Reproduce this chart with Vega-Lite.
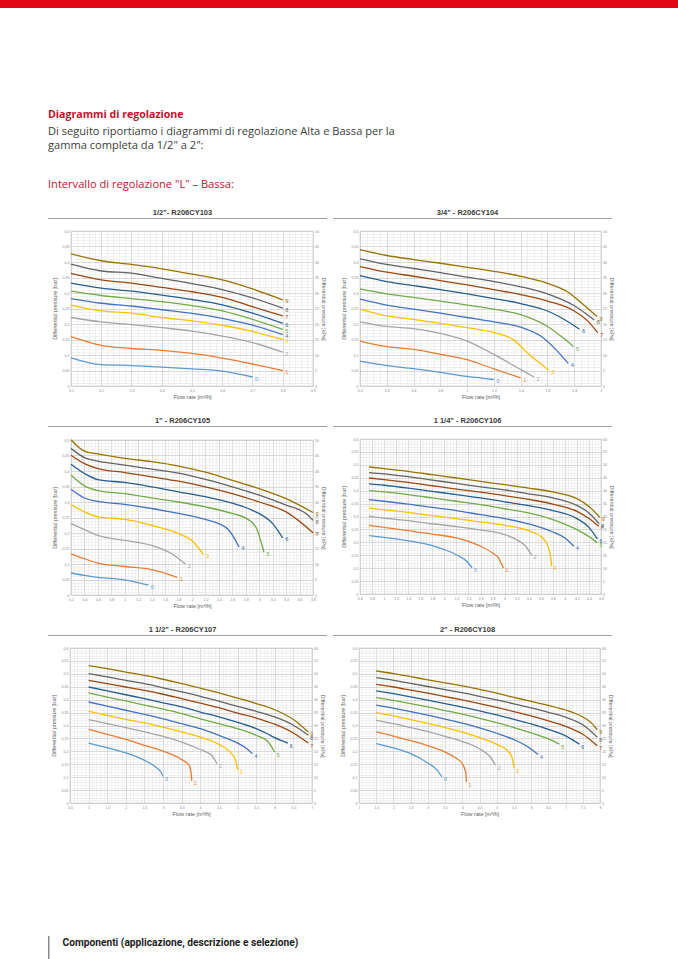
{
"$schema": "https://vega.github.io/schema/vega-lite/v6.json",
"padding": 0,
"background": "white",
"datasets": {
"d1": [
{"c":0,"q":0.1,"p":0.091},{"c":0,"q":0.2,"p":0.069},{"c":0,"q":0.3,"p":0.066},{"c":0,"q":0.4,"p":0.061},{"c":0,"q":0.5,"p":0.055},{"c":0,"q":0.6,"p":0.048},{"c":0,"q":0.7,"p":0.029},
{"c":1,"q":0.1,"p":0.159},{"c":1,"q":0.2,"p":0.131},{"c":1,"q":0.3,"p":0.121},{"c":1,"q":0.4,"p":0.115},{"c":1,"q":0.5,"p":0.105},{"c":1,"q":0.6,"p":0.090},{"c":1,"q":0.7,"p":0.071},{"c":1,"q":0.8,"p":0.050},
{"c":2,"q":0.1,"p":0.221},{"c":2,"q":0.2,"p":0.207},{"c":2,"q":0.3,"p":0.198},{"c":2,"q":0.4,"p":0.188},{"c":2,"q":0.5,"p":0.177},{"c":2,"q":0.6,"p":0.161},{"c":2,"q":0.7,"p":0.140},{"c":2,"q":0.8,"p":0.109},
{"c":3,"q":0.1,"p":0.261},{"c":3,"q":0.2,"p":0.242},{"c":3,"q":0.3,"p":0.235},{"c":3,"q":0.4,"p":0.221},{"c":3,"q":0.5,"p":0.210},{"c":3,"q":0.6,"p":0.196},{"c":3,"q":0.7,"p":0.176},{"c":3,"q":0.8,"p":0.150},
{"c":4,"q":0.1,"p":0.282},{"c":4,"q":0.2,"p":0.267},{"c":4,"q":0.3,"p":0.258},{"c":4,"q":0.4,"p":0.246},{"c":4,"q":0.5,"p":0.234},{"c":4,"q":0.6,"p":0.218},{"c":4,"q":0.7,"p":0.196},{"c":4,"q":0.8,"p":0.166},
{"c":5,"q":0.1,"p":0.306},{"c":5,"q":0.2,"p":0.292},{"c":5,"q":0.3,"p":0.282},{"c":5,"q":0.4,"p":0.272},{"c":5,"q":0.5,"p":0.259},{"c":5,"q":0.6,"p":0.242},{"c":5,"q":0.7,"p":0.215},{"c":5,"q":0.8,"p":0.183},
{"c":6,"q":0.1,"p":0.332},{"c":6,"q":0.2,"p":0.316},{"c":6,"q":0.3,"p":0.306},{"c":6,"q":0.4,"p":0.293},{"c":6,"q":0.5,"p":0.279},{"c":6,"q":0.6,"p":0.262},{"c":6,"q":0.7,"p":0.235},{"c":6,"q":0.8,"p":0.202},
{"c":7,"q":0.1,"p":0.363},{"c":7,"q":0.2,"p":0.342},{"c":7,"q":0.3,"p":0.332},{"c":7,"q":0.4,"p":0.318},{"c":7,"q":0.5,"p":0.304},{"c":7,"q":0.6,"p":0.286},{"c":7,"q":0.7,"p":0.256},{"c":7,"q":0.8,"p":0.226},
{"c":8,"q":0.1,"p":0.393},{"c":8,"q":0.2,"p":0.371},{"c":8,"q":0.3,"p":0.364},{"c":8,"q":0.4,"p":0.347},{"c":8,"q":0.5,"p":0.330},{"c":8,"q":0.6,"p":0.311},{"c":8,"q":0.7,"p":0.284},{"c":8,"q":0.8,"p":0.251},
{"c":9,"q":0.1,"p":0.426},{"c":9,"q":0.2,"p":0.404},{"c":9,"q":0.3,"p":0.392},{"c":9,"q":0.4,"p":0.378},{"c":9,"q":0.5,"p":0.361},{"c":9,"q":0.6,"p":0.342},{"c":9,"q":0.7,"p":0.313},{"c":9,"q":0.8,"p":0.278}
],
"d2": [
{"c":0,"q":0.2,"p":0.080},{"c":0,"q":0.4,"p":0.066},{"c":0,"q":0.6,"p":0.056},{"c":0,"q":0.8,"p":0.044},{"c":0,"q":1.0,"p":0.031},{"c":0,"q":1.2,"p":0.021},
{"c":1,"q":0.2,"p":0.145},{"c":1,"q":0.4,"p":0.127},{"c":1,"q":0.6,"p":0.118},{"c":1,"q":0.8,"p":0.102},{"c":1,"q":1.0,"p":0.085},{"c":1,"q":1.2,"p":0.055},{"c":1,"q":1.4,"p":0.026},
{"c":2,"q":0.2,"p":0.207},{"c":2,"q":0.4,"p":0.192},{"c":2,"q":0.6,"p":0.185},{"c":2,"q":0.8,"p":0.170},{"c":2,"q":1.0,"p":0.145},{"c":2,"q":1.2,"p":0.102},{"c":2,"q":1.4,"p":0.053},{"c":2,"q":1.5,"p":0.029},
{"c":3,"q":0.2,"p":0.248},{"c":3,"q":0.4,"p":0.226},{"c":3,"q":0.6,"p":0.215},{"c":3,"q":0.8,"p":0.202},{"c":3,"q":1.0,"p":0.188},{"c":3,"q":1.2,"p":0.172},{"c":3,"q":1.35,"p":0.148},{"c":3,"q":1.45,"p":0.107},{"c":3,"q":1.61,"p":0.051},
{"c":4,"q":0.2,"p":0.280},{"c":4,"q":0.4,"p":0.261},{"c":4,"q":0.6,"p":0.248},{"c":4,"q":0.8,"p":0.235},{"c":4,"q":1.0,"p":0.221},{"c":4,"q":1.2,"p":0.207},{"c":4,"q":1.4,"p":0.190},{"c":4,"q":1.55,"p":0.161},{"c":4,"q":1.65,"p":0.123},{"c":4,"q":1.755,"p":0.073},
{"c":5,"q":0.2,"p":0.313},{"c":5,"q":0.4,"p":0.297},{"c":5,"q":0.6,"p":0.286},{"c":5,"q":0.8,"p":0.274},{"c":5,"q":1.0,"p":0.261},{"c":5,"q":1.2,"p":0.248},{"c":5,"q":1.4,"p":0.230},{"c":5,"q":1.6,"p":0.192},{"c":5,"q":1.7,"p":0.161},{"c":5,"q":1.795,"p":0.127},
{"c":6,"q":0.2,"p":0.356},{"c":6,"q":0.4,"p":0.337},{"c":6,"q":0.6,"p":0.324},{"c":6,"q":0.8,"p":0.311},{"c":6,"q":1.0,"p":0.297},{"c":6,"q":1.2,"p":0.282},{"c":6,"q":1.4,"p":0.266},{"c":6,"q":1.6,"p":0.242},{"c":6,"q":1.7,"p":0.221},{"c":6,"q":1.84,"p":0.183},
{"c":7,"q":0.2,"p":0.385},{"c":7,"q":0.4,"p":0.367},{"c":7,"q":0.6,"p":0.354},{"c":7,"q":0.8,"p":0.340},{"c":7,"q":1.0,"p":0.326},{"c":7,"q":1.2,"p":0.311},{"c":7,"q":1.4,"p":0.295},{"c":7,"q":1.6,"p":0.274},{"c":7,"q":1.8,"p":0.242},{"c":7,"q":1.9,"p":0.210},{"c":7,"q":1.975,"p":0.172},
{"c":8,"q":0.2,"p":0.410},{"c":8,"q":0.4,"p":0.392},{"c":8,"q":0.6,"p":0.379},{"c":8,"q":0.8,"p":0.366},{"c":8,"q":1.0,"p":0.351},{"c":8,"q":1.2,"p":0.337},{"c":8,"q":1.4,"p":0.320},{"c":8,"q":1.6,"p":0.297},{"c":8,"q":1.8,"p":0.259},{"c":8,"q":1.95,"p":0.213},
{"c":9,"q":0.2,"p":0.440},{"c":9,"q":0.4,"p":0.421},{"c":9,"q":0.6,"p":0.408},{"c":9,"q":0.8,"p":0.396},{"c":9,"q":1.0,"p":0.383},{"c":9,"q":1.2,"p":0.370},{"c":9,"q":1.4,"p":0.354},{"c":9,"q":1.6,"p":0.331},{"c":9,"q":1.75,"p":0.304},{"c":9,"q":1.85,"p":0.269},{"c":9,"q":1.97,"p":0.224}
],
"d3": [
{"c":0,"q":0.2,"p":0.071},{"c":0,"q":0.4,"p":0.063},{"c":0,"q":0.6,"p":0.057},{"c":0,"q":1.0,"p":0.049},{"c":0,"q":1.35,"p":0.032},
{"c":1,"q":0.2,"p":0.133},{"c":1,"q":0.4,"p":0.117},{"c":1,"q":0.6,"p":0.103},{"c":1,"q":1.0,"p":0.092},{"c":1,"q":1.4,"p":0.082},{"c":1,"q":1.78,"p":0.057},
{"c":2,"q":0.2,"p":0.230},{"c":2,"q":0.4,"p":0.211},{"c":2,"q":0.6,"p":0.192},{"c":2,"q":1.0,"p":0.176},{"c":2,"q":1.4,"p":0.160},{"c":2,"q":1.7,"p":0.133},{"c":2,"q":1.9,"p":0.100},
{"c":3,"q":0.2,"p":0.292},{"c":3,"q":0.4,"p":0.268},{"c":3,"q":0.6,"p":0.252},{"c":3,"q":1.0,"p":0.244},{"c":3,"q":1.4,"p":0.225},{"c":3,"q":1.8,"p":0.198},{"c":3,"q":2.0,"p":0.176},{"c":3,"q":2.17,"p":0.130},
{"c":4,"q":0.2,"p":0.341},{"c":4,"q":0.4,"p":0.313},{"c":4,"q":0.6,"p":0.302},{"c":4,"q":1.0,"p":0.292},{"c":4,"q":1.4,"p":0.279},{"c":4,"q":1.8,"p":0.263},{"c":4,"q":2.2,"p":0.244},{"c":4,"q":2.4,"p":0.230},{"c":4,"q":2.55,"p":0.209},{"c":4,"q":2.7,"p":0.155},
{"c":5,"q":0.2,"p":0.387},{"c":5,"q":0.4,"p":0.352},{"c":5,"q":0.6,"p":0.337},{"c":5,"q":1.0,"p":0.327},{"c":5,"q":1.4,"p":0.313},{"c":5,"q":1.8,"p":0.300},{"c":5,"q":2.2,"p":0.284},{"c":5,"q":2.6,"p":0.263},{"c":5,"q":2.8,"p":0.248},{"c":5,"q":2.95,"p":0.219},{"c":5,"q":3.07,"p":0.138},
{"c":6,"q":0.2,"p":0.422},{"c":6,"q":0.4,"p":0.392},{"c":6,"q":0.6,"p":0.372},{"c":6,"q":1.0,"p":0.363},{"c":6,"q":1.4,"p":0.349},{"c":6,"q":1.8,"p":0.333},{"c":6,"q":2.2,"p":0.317},{"c":6,"q":2.6,"p":0.296},{"c":6,"q":2.9,"p":0.273},{"c":6,"q":3.2,"p":0.230},{"c":6,"q":3.35,"p":0.184},
{"c":7,"q":0.2,"p":0.451},{"c":7,"q":0.4,"p":0.424},{"c":7,"q":0.6,"p":0.408},{"c":7,"q":1.0,"p":0.395},{"c":7,"q":1.4,"p":0.381},{"c":7,"q":1.8,"p":0.367},{"c":7,"q":2.2,"p":0.349},{"c":7,"q":2.6,"p":0.327},{"c":7,"q":3.0,"p":0.300},{"c":7,"q":3.4,"p":0.268},{"c":7,"q":3.8,"p":0.201},
{"c":8,"q":0.2,"p":0.473},{"c":8,"q":0.4,"p":0.443},{"c":8,"q":0.6,"p":0.432},{"c":8,"q":1.0,"p":0.419},{"c":8,"q":1.4,"p":0.406},{"c":8,"q":1.8,"p":0.393},{"c":8,"q":2.2,"p":0.373},{"c":8,"q":2.6,"p":0.349},{"c":8,"q":3.0,"p":0.322},{"c":8,"q":3.4,"p":0.290},{"c":8,"q":3.7,"p":0.262},{"c":8,"q":3.8,"p":0.241},
{"c":9,"q":0.2,"p":0.501},{"c":9,"q":0.4,"p":0.464},{"c":9,"q":0.6,"p":0.455},{"c":9,"q":1.0,"p":0.441},{"c":9,"q":1.4,"p":0.430},{"c":9,"q":1.8,"p":0.416},{"c":9,"q":2.2,"p":0.396},{"c":9,"q":2.6,"p":0.370},{"c":9,"q":3.0,"p":0.343},{"c":9,"q":3.4,"p":0.311},{"c":9,"q":3.8,"p":0.266}
],
"d4": [
{"c":0,"q":0.75,"p":0.226},{"c":0,"q":1.0,"p":0.219},{"c":0,"q":1.4,"p":0.206},{"c":0,"q":1.8,"p":0.187},{"c":0,"q":2.0,"p":0.172},{"c":0,"q":2.2,"p":0.152},{"c":0,"q":2.4,"p":0.120},{"c":0,"q":2.46,"p":0.101},
{"c":1,"q":0.75,"p":0.266},{"c":1,"q":1.0,"p":0.258},{"c":1,"q":1.4,"p":0.245},{"c":1,"q":1.8,"p":0.232},{"c":1,"q":2.2,"p":0.217},{"c":1,"q":2.4,"p":0.204},{"c":1,"q":2.6,"p":0.185},{"c":1,"q":2.8,"p":0.159},{"c":1,"q":2.9,"p":0.139},{"c":1,"q":2.98,"p":0.101},
{"c":2,"q":0.75,"p":0.301},{"c":2,"q":1.0,"p":0.294},{"c":2,"q":1.4,"p":0.284},{"c":2,"q":1.8,"p":0.272},{"c":2,"q":2.2,"p":0.261},{"c":2,"q":2.6,"p":0.248},{"c":2,"q":3.0,"p":0.230},{"c":2,"q":3.2,"p":0.210},{"c":2,"q":3.35,"p":0.185},{"c":2,"q":3.45,"p":0.150},
{"c":3,"q":0.75,"p":0.333},{"c":3,"q":1.0,"p":0.326},{"c":3,"q":1.4,"p":0.316},{"c":3,"q":1.8,"p":0.303},{"c":3,"q":2.2,"p":0.292},{"c":3,"q":2.6,"p":0.279},{"c":3,"q":3.0,"p":0.266},{"c":3,"q":3.4,"p":0.245},{"c":3,"q":3.6,"p":0.223},{"c":3,"q":3.72,"p":0.185},{"c":3,"q":3.77,"p":0.133},{"c":3,"q":3.78,"p":0.107},
{"c":4,"q":0.75,"p":0.365},{"c":4,"q":1.0,"p":0.359},{"c":4,"q":1.4,"p":0.348},{"c":4,"q":1.8,"p":0.335},{"c":4,"q":2.2,"p":0.323},{"c":4,"q":2.6,"p":0.307},{"c":4,"q":3.0,"p":0.292},{"c":4,"q":3.4,"p":0.271},{"c":4,"q":3.8,"p":0.240},{"c":4,"q":4.0,"p":0.217},{"c":4,"q":4.15,"p":0.185},
{"c":5,"q":0.75,"p":0.400},{"c":5,"q":1.0,"p":0.395},{"c":5,"q":1.4,"p":0.385},{"c":5,"q":1.8,"p":0.372},{"c":5,"q":2.2,"p":0.359},{"c":5,"q":2.6,"p":0.346},{"c":5,"q":3.0,"p":0.330},{"c":5,"q":3.4,"p":0.314},{"c":5,"q":3.8,"p":0.288},{"c":5,"q":4.2,"p":0.249},{"c":5,"q":4.4,"p":0.222},{"c":5,"q":4.54,"p":0.198},
{"c":6,"q":0.75,"p":0.426},{"c":6,"q":1.0,"p":0.421},{"c":6,"q":1.4,"p":0.410},{"c":6,"q":1.8,"p":0.397},{"c":6,"q":2.2,"p":0.385},{"c":6,"q":2.6,"p":0.372},{"c":6,"q":3.0,"p":0.357},{"c":6,"q":3.4,"p":0.342},{"c":6,"q":3.8,"p":0.323},{"c":6,"q":4.2,"p":0.292},{"c":6,"q":4.4,"p":0.258},{"c":6,"q":4.54,"p":0.213},
{"c":7,"q":0.75,"p":0.449},{"c":7,"q":1.0,"p":0.443},{"c":7,"q":1.4,"p":0.432},{"c":7,"q":1.8,"p":0.419},{"c":7,"q":2.2,"p":0.406},{"c":7,"q":2.6,"p":0.394},{"c":7,"q":3.0,"p":0.381},{"c":7,"q":3.4,"p":0.366},{"c":7,"q":3.8,"p":0.348},{"c":7,"q":4.2,"p":0.320},{"c":7,"q":4.4,"p":0.292},{"c":7,"q":4.56,"p":0.262},
{"c":8,"q":0.75,"p":0.470},{"c":8,"q":1.0,"p":0.465},{"c":8,"q":1.4,"p":0.454},{"c":8,"q":1.8,"p":0.441},{"c":8,"q":2.2,"p":0.428},{"c":8,"q":2.6,"p":0.415},{"c":8,"q":3.0,"p":0.403},{"c":8,"q":3.4,"p":0.388},{"c":8,"q":3.8,"p":0.372},{"c":8,"q":4.2,"p":0.343},{"c":8,"q":4.4,"p":0.314},{"c":8,"q":4.57,"p":0.272},
{"c":9,"q":0.75,"p":0.492},{"c":9,"q":1.0,"p":0.485},{"c":9,"q":1.4,"p":0.475},{"c":9,"q":1.8,"p":0.462},{"c":9,"q":2.2,"p":0.449},{"c":9,"q":2.6,"p":0.436},{"c":9,"q":3.0,"p":0.423},{"c":9,"q":3.4,"p":0.410},{"c":9,"q":3.8,"p":0.395},{"c":9,"q":4.2,"p":0.369},{"c":9,"q":4.4,"p":0.339},{"c":9,"q":4.58,"p":0.297}
],
"d5": [
{"c":0,"q":1.0,"p":0.232},{"c":0,"q":1.5,"p":0.214},{"c":0,"q":2.0,"p":0.194},{"c":0,"q":2.5,"p":0.165},{"c":0,"q":2.8,"p":0.139},{"c":0,"q":2.95,"p":0.118},{"c":0,"q":3.0,"p":0.103},
{"c":1,"q":1.0,"p":0.285},{"c":1,"q":1.5,"p":0.266},{"c":1,"q":2.0,"p":0.246},{"c":1,"q":2.5,"p":0.223},{"c":1,"q":3.0,"p":0.201},{"c":1,"q":3.5,"p":0.168},{"c":1,"q":3.7,"p":0.146},{"c":1,"q":3.75,"p":0.120},{"c":1,"q":3.77,"p":0.086},
{"c":2,"q":1.0,"p":0.323},{"c":2,"q":1.5,"p":0.307},{"c":2,"q":2.0,"p":0.292},{"c":2,"q":2.5,"p":0.275},{"c":2,"q":3.0,"p":0.258},{"c":2,"q":3.5,"p":0.236},{"c":2,"q":4.0,"p":0.207},{"c":2,"q":4.3,"p":0.185},{"c":2,"q":4.45,"p":0.152},
{"c":3,"q":1.0,"p":0.356},{"c":3,"q":1.5,"p":0.339},{"c":3,"q":2.0,"p":0.324},{"c":3,"q":2.5,"p":0.310},{"c":3,"q":3.0,"p":0.294},{"c":3,"q":3.5,"p":0.275},{"c":3,"q":4.0,"p":0.255},{"c":3,"q":4.5,"p":0.227},{"c":3,"q":4.8,"p":0.197},{"c":3,"q":4.95,"p":0.165},{"c":3,"q":5.0,"p":0.129},
{"c":4,"q":1.0,"p":0.391},{"c":4,"q":1.5,"p":0.375},{"c":4,"q":2.0,"p":0.359},{"c":4,"q":2.5,"p":0.343},{"c":4,"q":3.0,"p":0.326},{"c":4,"q":3.5,"p":0.307},{"c":4,"q":4.0,"p":0.288},{"c":4,"q":4.5,"p":0.262},{"c":4,"q":5.0,"p":0.232},{"c":4,"q":5.25,"p":0.210},{"c":4,"q":5.4,"p":0.191},
{"c":5,"q":1.0,"p":0.426},{"c":5,"q":1.5,"p":0.410},{"c":5,"q":2.0,"p":0.395},{"c":5,"q":2.5,"p":0.379},{"c":5,"q":3.0,"p":0.363},{"c":5,"q":3.5,"p":0.346},{"c":5,"q":4.0,"p":0.326},{"c":5,"q":4.5,"p":0.307},{"c":5,"q":5.0,"p":0.288},{"c":5,"q":5.5,"p":0.262},{"c":5,"q":5.8,"p":0.240},{"c":5,"q":6.0,"p":0.197},
{"c":6,"q":1.0,"p":0.449},{"c":6,"q":1.5,"p":0.434},{"c":6,"q":2.0,"p":0.419},{"c":6,"q":2.5,"p":0.404},{"c":6,"q":3.0,"p":0.388},{"c":6,"q":3.5,"p":0.372},{"c":6,"q":4.0,"p":0.352},{"c":6,"q":4.5,"p":0.333},{"c":6,"q":5.0,"p":0.312},{"c":6,"q":5.5,"p":0.288},{"c":6,"q":5.8,"p":0.268},{"c":6,"q":6.0,"p":0.253},{"c":6,"q":6.35,"p":0.232},
{"c":7,"q":1.0,"p":0.475},{"c":7,"q":1.5,"p":0.462},{"c":7,"q":2.0,"p":0.449},{"c":7,"q":2.5,"p":0.436},{"c":7,"q":3.0,"p":0.421},{"c":7,"q":3.5,"p":0.404},{"c":7,"q":4.0,"p":0.387},{"c":7,"q":4.5,"p":0.369},{"c":7,"q":5.0,"p":0.348},{"c":7,"q":5.5,"p":0.329},{"c":7,"q":6.0,"p":0.305},{"c":7,"q":6.5,"p":0.271},{"c":7,"q":6.9,"p":0.232},
{"c":8,"q":1.0,"p":0.501},{"c":8,"q":1.5,"p":0.488},{"c":8,"q":2.0,"p":0.475},{"c":8,"q":2.5,"p":0.462},{"c":8,"q":3.0,"p":0.446},{"c":8,"q":3.5,"p":0.430},{"c":8,"q":4.0,"p":0.413},{"c":8,"q":4.5,"p":0.394},{"c":8,"q":5.0,"p":0.374},{"c":8,"q":5.5,"p":0.355},{"c":8,"q":6.0,"p":0.333},{"c":8,"q":6.5,"p":0.301},{"c":8,"q":6.9,"p":0.262},
{"c":9,"q":1.0,"p":0.532},{"c":9,"q":1.5,"p":0.520},{"c":9,"q":2.0,"p":0.507},{"c":9,"q":2.5,"p":0.494},{"c":9,"q":3.0,"p":0.479},{"c":9,"q":3.5,"p":0.462},{"c":9,"q":4.0,"p":0.445},{"c":9,"q":4.5,"p":0.426},{"c":9,"q":5.0,"p":0.406},{"c":9,"q":5.5,"p":0.385},{"c":9,"q":6.0,"p":0.361},{"c":9,"q":6.5,"p":0.323},{"c":9,"q":6.9,"p":0.275}
],
"d6": [
{"c":0,"q":1.5,"p":0.230},{"c":0,"q":2.0,"p":0.213},{"c":0,"q":2.5,"p":0.191},{"c":0,"q":3.0,"p":0.155},{"c":0,"q":3.25,"p":0.130},{"c":0,"q":3.41,"p":0.101},
{"c":1,"q":1.5,"p":0.275},{"c":1,"q":2.0,"p":0.259},{"c":1,"q":2.5,"p":0.241},{"c":1,"q":3.0,"p":0.222},{"c":1,"q":3.5,"p":0.197},{"c":1,"q":3.8,"p":0.175},{"c":1,"q":4.0,"p":0.152},{"c":1,"q":4.1,"p":0.119},{"c":1,"q":4.12,"p":0.081},
{"c":2,"q":1.5,"p":0.320},{"c":2,"q":2.0,"p":0.307},{"c":2,"q":2.5,"p":0.292},{"c":2,"q":3.0,"p":0.276},{"c":2,"q":3.5,"p":0.258},{"c":2,"q":4.0,"p":0.238},{"c":2,"q":4.5,"p":0.210},{"c":2,"q":4.8,"p":0.180},{"c":2,"q":4.97,"p":0.146},
{"c":3,"q":1.5,"p":0.350},{"c":3,"q":2.0,"p":0.337},{"c":3,"q":2.5,"p":0.323},{"c":3,"q":3.0,"p":0.308},{"c":3,"q":3.5,"p":0.292},{"c":3,"q":4.0,"p":0.274},{"c":3,"q":4.5,"p":0.253},{"c":3,"q":5.0,"p":0.227},{"c":3,"q":5.3,"p":0.204},{"c":3,"q":5.45,"p":0.175},{"c":3,"q":5.5,"p":0.135},
{"c":4,"q":1.5,"p":0.379},{"c":4,"q":2.0,"p":0.367},{"c":4,"q":2.5,"p":0.354},{"c":4,"q":3.0,"p":0.340},{"c":4,"q":3.5,"p":0.325},{"c":4,"q":4.0,"p":0.309},{"c":4,"q":4.5,"p":0.291},{"c":4,"q":5.0,"p":0.270},{"c":4,"q":5.5,"p":0.245},{"c":4,"q":5.9,"p":0.218},{"c":4,"q":6.2,"p":0.188},
{"c":5,"q":1.5,"p":0.408},{"c":5,"q":2.0,"p":0.397},{"c":5,"q":2.5,"p":0.385},{"c":5,"q":3.0,"p":0.372},{"c":5,"q":3.5,"p":0.358},{"c":5,"q":4.0,"p":0.344},{"c":5,"q":4.5,"p":0.328},{"c":5,"q":5.0,"p":0.311},{"c":5,"q":5.5,"p":0.292},{"c":5,"q":6.0,"p":0.271},{"c":5,"q":6.5,"p":0.248},{"c":5,"q":6.82,"p":0.228},
{"c":6,"q":1.5,"p":0.434},{"c":6,"q":2.0,"p":0.423},{"c":6,"q":2.5,"p":0.411},{"c":6,"q":3.0,"p":0.398},{"c":6,"q":3.5,"p":0.385},{"c":6,"q":4.0,"p":0.371},{"c":6,"q":4.5,"p":0.357},{"c":6,"q":5.0,"p":0.341},{"c":6,"q":5.5,"p":0.324},{"c":6,"q":6.0,"p":0.306},{"c":6,"q":6.5,"p":0.285},{"c":6,"q":7.0,"p":0.260},{"c":6,"q":7.4,"p":0.228},
{"c":7,"q":1.5,"p":0.459},{"c":7,"q":2.0,"p":0.449},{"c":7,"q":2.5,"p":0.437},{"c":7,"q":3.0,"p":0.425},{"c":7,"q":3.5,"p":0.412},{"c":7,"q":4.0,"p":0.399},{"c":7,"q":4.5,"p":0.385},{"c":7,"q":5.0,"p":0.370},{"c":7,"q":5.5,"p":0.354},{"c":7,"q":6.0,"p":0.337},{"c":7,"q":6.5,"p":0.318},{"c":7,"q":7.0,"p":0.297},{"c":7,"q":7.5,"p":0.266},{"c":7,"q":7.92,"p":0.222},
{"c":8,"q":1.5,"p":0.485},{"c":8,"q":2.0,"p":0.475},{"c":8,"q":2.5,"p":0.463},{"c":8,"q":3.0,"p":0.451},{"c":8,"q":3.5,"p":0.439},{"c":8,"q":4.0,"p":0.427},{"c":8,"q":4.5,"p":0.413},{"c":8,"q":5.0,"p":0.399},{"c":8,"q":5.5,"p":0.384},{"c":8,"q":6.0,"p":0.368},{"c":8,"q":6.5,"p":0.351},{"c":8,"q":7.0,"p":0.332},{"c":8,"q":7.5,"p":0.303},{"c":8,"q":7.92,"p":0.255},
{"c":9,"q":1.5,"p":0.511},{"c":9,"q":2.0,"p":0.501},{"c":9,"q":2.5,"p":0.489},{"c":9,"q":3.0,"p":0.477},{"c":9,"q":3.5,"p":0.465},{"c":9,"q":4.0,"p":0.453},{"c":9,"q":4.5,"p":0.440},{"c":9,"q":5.0,"p":0.425},{"c":9,"q":5.5,"p":0.409},{"c":9,"q":6.0,"p":0.393},{"c":9,"q":6.5,"p":0.378},{"c":9,"q":7.0,"p":0.360},{"c":9,"q":7.5,"p":0.333},{"c":9,"q":7.75,"p":0.310},{"c":9,"q":7.92,"p":0.284}
]
},
"config": {
  "view": {"stroke": null},
  "font": "Liberation Sans",
  "title": {"font": "Liberation Sans", "fontSize": 7.5, "fontWeight": "bold", "color": "#3a3a3a", "anchor": "middle", "offset": 2},
  "axis": {"labelFont": "Liberation Sans", "labelFontSize": 3.6, "labelColor": "#8c8c8c", "titleFont": "Liberation Sans", "titleFontSize": 5.5, "titleFontWeight": "normal", "titleColor": "#5e5e5e", "ticks": false, "domain": false, "labelOverlap": false, "labelFlush": false, "labelBound": false, "gridWidth": 0.6},
  "axisBottom": {"labelPadding": 2, "titlePadding": 2.5},
  "axisLeft": {"labelPadding": 2, "minExtent": 10, "titlePadding": 4},
  "axisRight": {"labelPadding": 1.5, "titlePadding": 2.5, "titleAngle": 90},
  "text": {"font": "Liberation Sans"}
},
"vconcat": [
  {"width": 678, "height": 8, "data": {"values": []}, "mark": "point", "view": {"fill": "#e30613", "stroke": null}},
  {"hconcat": [
    {"width": 1, "height": 1, "data": {"values": []}, "mark": "point"},
    {
      "title": {"text": "Diagrammi di regolazione", "subtitle": ["Di seguito riportiamo i diagrammi di regolazione Alta e Bassa per la", "gamma completa da 1/2\" a 2\":"], "anchor": "start", "font": "Open Sans", "fontSize": 10.6, "fontWeight": "bold", "color": "#c8102e", "subtitleFont": "Open Sans", "subtitleFontSize": 11.1, "subtitleColor": "#3c3c3c", "subtitleLineHeight": 14, "subtitlePadding": 6, "offset": 28},
      "spacing": 119,
      "vconcat": [
        {
          "title": {"text": "Intervallo di regolazione \"L\" – Bassa:", "anchor": "start", "font": "Open Sans", "fontSize": 11.1, "fontWeight": "normal", "color": "#c8102e", "offset": 18},
          "spacing": 16,
          "vconcat": [
            {"spacing": 6, "hconcat": [
              {"spacing": 9, "vconcat": [
                {"width": 279, "height": 1, "data": {"values": []}, "mark": "point", "view": {"fill": "#a0a0a0", "stroke": null}, "title": {"text": "1/2\"- R206CY103", "dx": -5}},
                {"spacing": 0, "hconcat": [
                  {"width": 3, "height": 1, "data": {"values": []}, "mark": "point"},
                  {"width": 242, "height": 155, "data": {"name": "d1"}, "view": {"stroke": "#b8b8b8", "strokeWidth": 0.6},
                   "layer": [
                    {"mark": {"type": "line", "strokeWidth": 1.3, "interpolate": "monotone"},
                     "encoding": {
                      "x": {"field": "q", "type": "quantitative", "scale": {"domain": [0.1, 0.9], "nice": false, "zero": false},
                            "axis": {"title": "Flow rate [m³/h]", "tickCount": 40, "gridColor": {"condition": {"test": "abs(datum.value*10-round(datum.value*10))<1e-6", "value": "#c2c2c2"}, "value": "#e9e9e9"}, "labelExpr": "abs(datum.value*10-round(datum.value*10))<1e-6 ? replace(format(datum.value,'~g'),'.',',') : ''"}},
                      "y": {"field": "p", "type": "quantitative", "scale": {"domain": [0, 0.5], "nice": false},
                            "axis": {"title": "Differential pressure [bar]", "orient": "left", "tickCount": 50, "gridColor": {"condition": {"test": "abs(datum.value*20-round(datum.value*20))<1e-6", "value": "#c2c2c2"}, "value": "#e9e9e9"}, "labelExpr": "abs(datum.value*20-round(datum.value*20))<1e-6 ? replace(format(datum.value,'~g'),'.',',') : ''"}},
                      "color": {"field": "c", "type": "nominal", "scale": {"domain": [0,1,2,3,4,5,6,7,8,9], "range": ["#5b9bd5","#ed7d31","#a5a5a5","#ffc000","#4472c4","#70ad47","#255e91","#9e480e","#636363","#997300"]}, "legend": null}
                     }},
                    {"transform": [{"joinaggregate": [{"op": "max", "field": "q", "as": "qm"}], "groupby": ["c"]}, {"filter": "datum.q == datum.qm"}],
                     "mark": {"type": "text", "align": "left", "baseline": "middle", "dx": 2.5, "dy": 1.5, "fontSize": 5.6},
                     "encoding": {
                      "x": {"field": "q", "type": "quantitative", "scale": {"domain": [0.1, 0.9], "nice": false, "zero": false}},
                      "y": {"field": "p", "type": "quantitative", "scale": {"domain": [0, 0.5], "nice": false}, "axis": {"title": "Differential pressure [kPa]", "orient": "right", "tickCount": 10, "grid": false, "labelExpr": "format(round(datum.value*100),'d')"}},
                      "color": {"field": "c", "type": "nominal", "scale": {"domain": [0,1,2,3,4,5,6,7,8,9], "range": ["#5b9bd5","#ed7d31","#a5a5a5","#ffc000","#4472c4","#70ad47","#255e91","#9e480e","#636363","#997300"]}, "legend": null},
                      "text": {"field": "c", "type": "nominal"}
                     }}
                   ],
                   "resolve": {"axis": {"y": "independent"}}}
                ]}
              ]},
              {"spacing": 9, "vconcat": [
                {"width": 279, "height": 1, "data": {"values": []}, "mark": "point", "view": {"fill": "#a0a0a0", "stroke": null}, "title": {"text": "3/4\" - R206CY104", "dx": -5}},
                {"spacing": 0, "hconcat": [
                  {"width": 7, "height": 1, "data": {"values": []}, "mark": "point"},
                  {"width": 241, "height": 155, "data": {"name": "d2"}, "view": {"stroke": "#b8b8b8", "strokeWidth": 0.6},
                   "layer": [
                    {"mark": {"type": "line", "strokeWidth": 1.3, "interpolate": "monotone"},
                     "encoding": {
                      "x": {"field": "q", "type": "quantitative", "scale": {"domain": [0.2, 2.0], "nice": false, "zero": false},
                            "axis": {"title": "Flow rate [m³/h]", "tickCount": 36, "gridColor": {"condition": {"test": "abs(datum.value*5-round(datum.value*5))<1e-6", "value": "#c2c2c2"}, "value": "#e9e9e9"}, "labelExpr": "abs(datum.value*5-round(datum.value*5))<1e-6 ? replace(format(datum.value,'~g'),'.',',') : ''"}},
                      "y": {"field": "p", "type": "quantitative", "scale": {"domain": [0, 0.5], "nice": false},
                            "axis": {"title": "Differential pressure [bar]", "orient": "left", "tickCount": 50, "gridColor": {"condition": {"test": "abs(datum.value*20-round(datum.value*20))<1e-6", "value": "#c2c2c2"}, "value": "#e9e9e9"}, "labelExpr": "abs(datum.value*20-round(datum.value*20))<1e-6 ? replace(format(datum.value,'~g'),'.',',') : ''"}},
                      "color": {"field": "c", "type": "nominal", "scale": {"domain": [0,1,2,3,4,5,6,7,8,9], "range": ["#5b9bd5","#ed7d31","#a5a5a5","#ffc000","#4472c4","#70ad47","#255e91","#9e480e","#636363","#997300"]}, "legend": null}
                     }},
                    {"transform": [{"joinaggregate": [{"op": "max", "field": "q", "as": "qm"}], "groupby": ["c"]}, {"filter": "datum.q == datum.qm"}],
                     "mark": {"type": "text", "align": "left", "baseline": "middle", "dx": 2.5, "dy": 2, "fontSize": 5.6},
                     "encoding": {
                      "x": {"field": "q", "type": "quantitative", "scale": {"domain": [0.2, 2.0], "nice": false, "zero": false}},
                      "y": {"field": "p", "type": "quantitative", "scale": {"domain": [0, 0.5], "nice": false}, "axis": {"title": "Differential pressure [kPa]", "orient": "right", "tickCount": 10, "grid": false, "labelExpr": "format(round(datum.value*100),'d')"}},
                      "color": {"field": "c", "type": "nominal", "scale": {"domain": [0,1,2,3,4,5,6,7,8,9], "range": ["#5b9bd5","#ed7d31","#a5a5a5","#ffc000","#4472c4","#70ad47","#255e91","#9e480e","#636363","#997300"]}, "legend": null},
                      "text": {"field": "c", "type": "nominal"}
                     }}
                   ],
                   "resolve": {"axis": {"y": "independent"}}}
                ]}
              ]}
            ]},
            {"spacing": 6, "hconcat": [
              {"spacing": 9, "vconcat": [
                {"width": 279, "height": 1, "data": {"values": []}, "mark": "point", "view": {"fill": "#a0a0a0", "stroke": null}, "title": {"text": "1\" - R206CY105", "dx": -5}},
                {"spacing": 0, "hconcat": [
                  {"width": 3, "height": 1, "data": {"values": []}, "mark": "point"},
                  {"width": 242, "height": 155, "data": {"name": "d3"}, "view": {"stroke": "#b8b8b8", "strokeWidth": 0.6},
                   "layer": [
                    {"mark": {"type": "line", "strokeWidth": 1.3, "interpolate": "monotone"},
                     "encoding": {
                      "x": {"field": "q", "type": "quantitative", "scale": {"domain": [0.2, 3.8], "nice": false, "zero": false},
                            "axis": {"title": "Flow rate [m³/h]", "tickCount": 72, "gridColor": {"condition": {"test": "abs(datum.value*5-round(datum.value*5))<1e-6", "value": "#c2c2c2"}, "value": "#e9e9e9"}, "labelExpr": "abs(datum.value*5-round(datum.value*5))<1e-6 ? replace(format(datum.value,'~g'),'.',',') : ''"}},
                      "y": {"field": "p", "type": "quantitative", "scale": {"domain": [0, 0.5], "nice": false},
                            "axis": {"title": "Differential pressure [bar]", "orient": "left", "tickCount": 50, "gridColor": {"condition": {"test": "abs(datum.value*20-round(datum.value*20))<1e-6", "value": "#c2c2c2"}, "value": "#e9e9e9"}, "labelExpr": "abs(datum.value*20-round(datum.value*20))<1e-6 ? replace(format(datum.value,'~g'),'.',',') : ''"}},
                      "color": {"field": "c", "type": "nominal", "scale": {"domain": [0,1,2,3,4,5,6,7,8,9], "range": ["#5b9bd5","#ed7d31","#a5a5a5","#ffc000","#4472c4","#70ad47","#255e91","#9e480e","#636363","#997300"]}, "legend": null}
                     }},
                    {"transform": [{"joinaggregate": [{"op": "max", "field": "q", "as": "qm"}], "groupby": ["c"]}, {"filter": "datum.q == datum.qm"}],
                     "mark": {"type": "text", "align": "left", "baseline": "middle", "dx": 2.5, "dy": 1.5, "fontSize": 5.6},
                     "encoding": {
                      "x": {"field": "q", "type": "quantitative", "scale": {"domain": [0.2, 3.8], "nice": false, "zero": false}},
                      "y": {"field": "p", "type": "quantitative", "scale": {"domain": [0, 0.5], "nice": false}, "axis": {"title": "Differential pressure [kPa]", "orient": "right", "tickCount": 10, "grid": false, "labelExpr": "format(round(datum.value*100),'d')"}},
                      "color": {"field": "c", "type": "nominal", "scale": {"domain": [0,1,2,3,4,5,6,7,8,9], "range": ["#5b9bd5","#ed7d31","#a5a5a5","#ffc000","#4472c4","#70ad47","#255e91","#9e480e","#636363","#997300"]}, "legend": null},
                      "text": {"field": "c", "type": "nominal"}
                     }}
                   ],
                   "resolve": {"axis": {"y": "independent"}}}
                ]}
              ]},
              {"spacing": 9, "vconcat": [
                {"width": 279, "height": 1, "data": {"values": []}, "mark": "point", "view": {"fill": "#a0a0a0", "stroke": null}, "title": {"text": "1 1/4\" - R206CY106", "dx": -5}},
                {"spacing": 0, "hconcat": [
                  {"width": 7, "height": 1, "data": {"values": []}, "mark": "point"},
                  {"width": 241, "height": 155, "data": {"name": "d4"}, "view": {"stroke": "#b8b8b8", "strokeWidth": 0.6},
                   "layer": [
                    {"mark": {"type": "line", "strokeWidth": 1.3, "interpolate": "monotone"},
                     "encoding": {
                      "x": {"field": "q", "type": "quantitative", "scale": {"domain": [0.6, 4.6], "nice": false, "zero": false},
                            "axis": {"title": "Flow rate [m³/h]", "tickCount": 80, "gridColor": {"condition": {"test": "abs(datum.value*5-round(datum.value*5))<1e-6", "value": "#c2c2c2"}, "value": "#e9e9e9"}, "labelExpr": "abs(datum.value*5-round(datum.value*5))<1e-6 ? replace(format(datum.value,'~g'),'.',',') : ''"}},
                      "y": {"field": "p", "type": "quantitative", "scale": {"domain": [0, 0.6], "nice": false},
                            "axis": {"title": "Differential pressure [bar]", "orient": "left", "tickCount": 60, "gridColor": {"condition": {"test": "abs(datum.value*20-round(datum.value*20))<1e-6", "value": "#c2c2c2"}, "value": "#e9e9e9"}, "labelExpr": "abs(datum.value*20-round(datum.value*20))<1e-6 ? replace(format(datum.value,'~g'),'.',',') : ''"}},
                      "color": {"field": "c", "type": "nominal", "scale": {"domain": [0,1,2,3,4,5,6,7,8,9], "range": ["#5b9bd5","#ed7d31","#a5a5a5","#ffc000","#4472c4","#70ad47","#255e91","#9e480e","#636363","#997300"]}, "legend": null}
                     }},
                    {"transform": [{"joinaggregate": [{"op": "max", "field": "q", "as": "qm"}], "groupby": ["c"]}, {"filter": "datum.q == datum.qm"}],
                     "mark": {"type": "text", "align": "left", "baseline": "middle", "dx": 2, "dy": 2, "fontSize": 5.2},
                     "encoding": {
                      "x": {"field": "q", "type": "quantitative", "scale": {"domain": [0.6, 4.6], "nice": false, "zero": false}},
                      "y": {"field": "p", "type": "quantitative", "scale": {"domain": [0, 0.6], "nice": false}, "axis": {"title": "Differential pressure [kPa]", "orient": "right", "tickCount": 12, "grid": false, "labelExpr": "format(round(datum.value*100),'d')"}},
                      "color": {"field": "c", "type": "nominal", "scale": {"domain": [0,1,2,3,4,5,6,7,8,9], "range": ["#5b9bd5","#ed7d31","#a5a5a5","#ffc000","#4472c4","#70ad47","#255e91","#9e480e","#636363","#997300"]}, "legend": null},
                      "text": {"field": "c", "type": "nominal"}
                     }}
                   ],
                   "resolve": {"axis": {"y": "independent"}}}
                ]}
              ]}
            ]},
            {"spacing": 6, "hconcat": [
              {"spacing": 9, "vconcat": [
                {"width": 279, "height": 1, "data": {"values": []}, "mark": "point", "view": {"fill": "#a0a0a0", "stroke": null}, "title": {"text": "1 1/2\" - R206CY107", "dx": -5}},
                {"spacing": 0, "hconcat": [
                  {"width": 2, "height": 1, "data": {"values": []}, "mark": "point"},
                  {"width": 242, "height": 155, "data": {"name": "d5"}, "view": {"stroke": "#b8b8b8", "strokeWidth": 0.6},
                   "layer": [
                    {"mark": {"type": "line", "strokeWidth": 1.3, "interpolate": "monotone"},
                     "encoding": {
                      "x": {"field": "q", "type": "quantitative", "scale": {"domain": [0.5, 7.0], "nice": false, "zero": false},
                            "axis": {"title": "Flow rate [m³/h]", "tickCount": 65, "gridColor": {"condition": {"test": "abs(datum.value*2-round(datum.value*2))<1e-6", "value": "#c2c2c2"}, "value": "#e9e9e9"}, "labelExpr": "abs(datum.value*2-round(datum.value*2))<1e-6 ? replace(format(datum.value,'~g'),'.',',') : ''"}},
                      "y": {"field": "p", "type": "quantitative", "scale": {"domain": [0, 0.6], "nice": false},
                            "axis": {"title": "Differential pressure [bar]", "orient": "left", "tickCount": 60, "gridColor": {"condition": {"test": "abs(datum.value*20-round(datum.value*20))<1e-6", "value": "#c2c2c2"}, "value": "#e9e9e9"}, "labelExpr": "abs(datum.value*20-round(datum.value*20))<1e-6 ? replace(format(datum.value,'~g'),'.',',') : ''"}},
                      "color": {"field": "c", "type": "nominal", "scale": {"domain": [0,1,2,3,4,5,6,7,8,9], "range": ["#5b9bd5","#ed7d31","#a5a5a5","#ffc000","#4472c4","#70ad47","#255e91","#9e480e","#636363","#997300"]}, "legend": null}
                     }},
                    {"transform": [{"joinaggregate": [{"op": "max", "field": "q", "as": "qm"}], "groupby": ["c"]}, {"filter": "datum.q == datum.qm"}],
                     "mark": {"type": "text", "align": "left", "baseline": "middle", "dx": 2, "dy": 2.5, "fontSize": 5.2},
                     "encoding": {
                      "x": {"field": "q", "type": "quantitative", "scale": {"domain": [0.5, 7.0], "nice": false, "zero": false}},
                      "y": {"field": "p", "type": "quantitative", "scale": {"domain": [0, 0.6], "nice": false}, "axis": {"title": "Differential pressure [kPa]", "orient": "right", "tickCount": 12, "grid": false, "labelExpr": "format(round(datum.value*100),'d')"}},
                      "color": {"field": "c", "type": "nominal", "scale": {"domain": [0,1,2,3,4,5,6,7,8,9], "range": ["#5b9bd5","#ed7d31","#a5a5a5","#ffc000","#4472c4","#70ad47","#255e91","#9e480e","#636363","#997300"]}, "legend": null},
                      "text": {"field": "c", "type": "nominal"}
                     }}
                   ],
                   "resolve": {"axis": {"y": "independent"}}}
                ]}
              ]},
              {"spacing": 9, "vconcat": [
                {"width": 279, "height": 1, "data": {"values": []}, "mark": "point", "view": {"fill": "#a0a0a0", "stroke": null}, "title": {"text": "2\" - R206CY108", "dx": -5}},
                {"spacing": 0, "hconcat": [
                  {"width": 6, "height": 1, "data": {"values": []}, "mark": "point"},
                  {"width": 241, "height": 155, "data": {"name": "d6"}, "view": {"stroke": "#b8b8b8", "strokeWidth": 0.6},
                   "layer": [
                    {"mark": {"type": "line", "strokeWidth": 1.3, "interpolate": "monotone"},
                     "encoding": {
                      "x": {"field": "q", "type": "quantitative", "scale": {"domain": [1, 8], "nice": false, "zero": false},
                            "axis": {"title": "Flow rate [m³/h]", "tickCount": 70, "gridColor": {"condition": {"test": "abs(datum.value*2-round(datum.value*2))<1e-6", "value": "#c2c2c2"}, "value": "#e9e9e9"}, "labelExpr": "abs(datum.value*2-round(datum.value*2))<1e-6 ? replace(format(datum.value,'~g'),'.',',') : ''"}},
                      "y": {"field": "p", "type": "quantitative", "scale": {"domain": [0, 0.6], "nice": false},
                            "axis": {"title": "Differential pressure [bar]", "orient": "left", "tickCount": 60, "gridColor": {"condition": {"test": "abs(datum.value*20-round(datum.value*20))<1e-6", "value": "#c2c2c2"}, "value": "#e9e9e9"}, "labelExpr": "abs(datum.value*20-round(datum.value*20))<1e-6 ? replace(format(datum.value,'~g'),'.',',') : ''"}},
                      "color": {"field": "c", "type": "nominal", "scale": {"domain": [0,1,2,3,4,5,6,7,8,9], "range": ["#5b9bd5","#ed7d31","#a5a5a5","#ffc000","#4472c4","#70ad47","#255e91","#9e480e","#636363","#997300"]}, "legend": null}
                     }},
                    {"transform": [{"joinaggregate": [{"op": "max", "field": "q", "as": "qm"}], "groupby": ["c"]}, {"filter": "datum.q == datum.qm"}],
                     "mark": {"type": "text", "align": "left", "baseline": "middle", "dx": 2, "dy": 2.5, "fontSize": 5.2},
                     "encoding": {
                      "x": {"field": "q", "type": "quantitative", "scale": {"domain": [1, 8], "nice": false, "zero": false}},
                      "y": {"field": "p", "type": "quantitative", "scale": {"domain": [0, 0.6], "nice": false}, "axis": {"title": "Differential pressure [kPa]", "orient": "right", "tickCount": 12, "grid": false, "labelExpr": "format(round(datum.value*100),'d')"}},
                      "color": {"field": "c", "type": "nominal", "scale": {"domain": [0,1,2,3,4,5,6,7,8,9], "range": ["#5b9bd5","#ed7d31","#a5a5a5","#ffc000","#4472c4","#70ad47","#255e91","#9e480e","#636363","#997300"]}, "legend": null},
                      "text": {"field": "c", "type": "nominal"}
                     }}
                   ],
                   "resolve": {"axis": {"y": "independent"}}}
                ]}
              ]}
            ]}
          ]
        },
        {"spacing": 12, "hconcat": [
          {"width": 1.5, "height": 26, "data": {"values": []}, "mark": "point", "view": {"fill": "#8a8a8a", "stroke": null}},
          {"width": 1, "height": 26, "data": {"values": [{"t": "Componenti (applicazione, descrizione e selezione)"}]}, "mark": {"type": "text", "align": "left", "baseline": "middle", "dy": -6, "font": "Roboto", "fontSize": 10.2, "fontWeight": "bold", "color": "#1e1e1e"}, "encoding": {"text": {"field": "t", "type": "nominal"}}}
        ]}
      ]
    }
  ], "spacing": 47}
],
"spacing": 101
}
